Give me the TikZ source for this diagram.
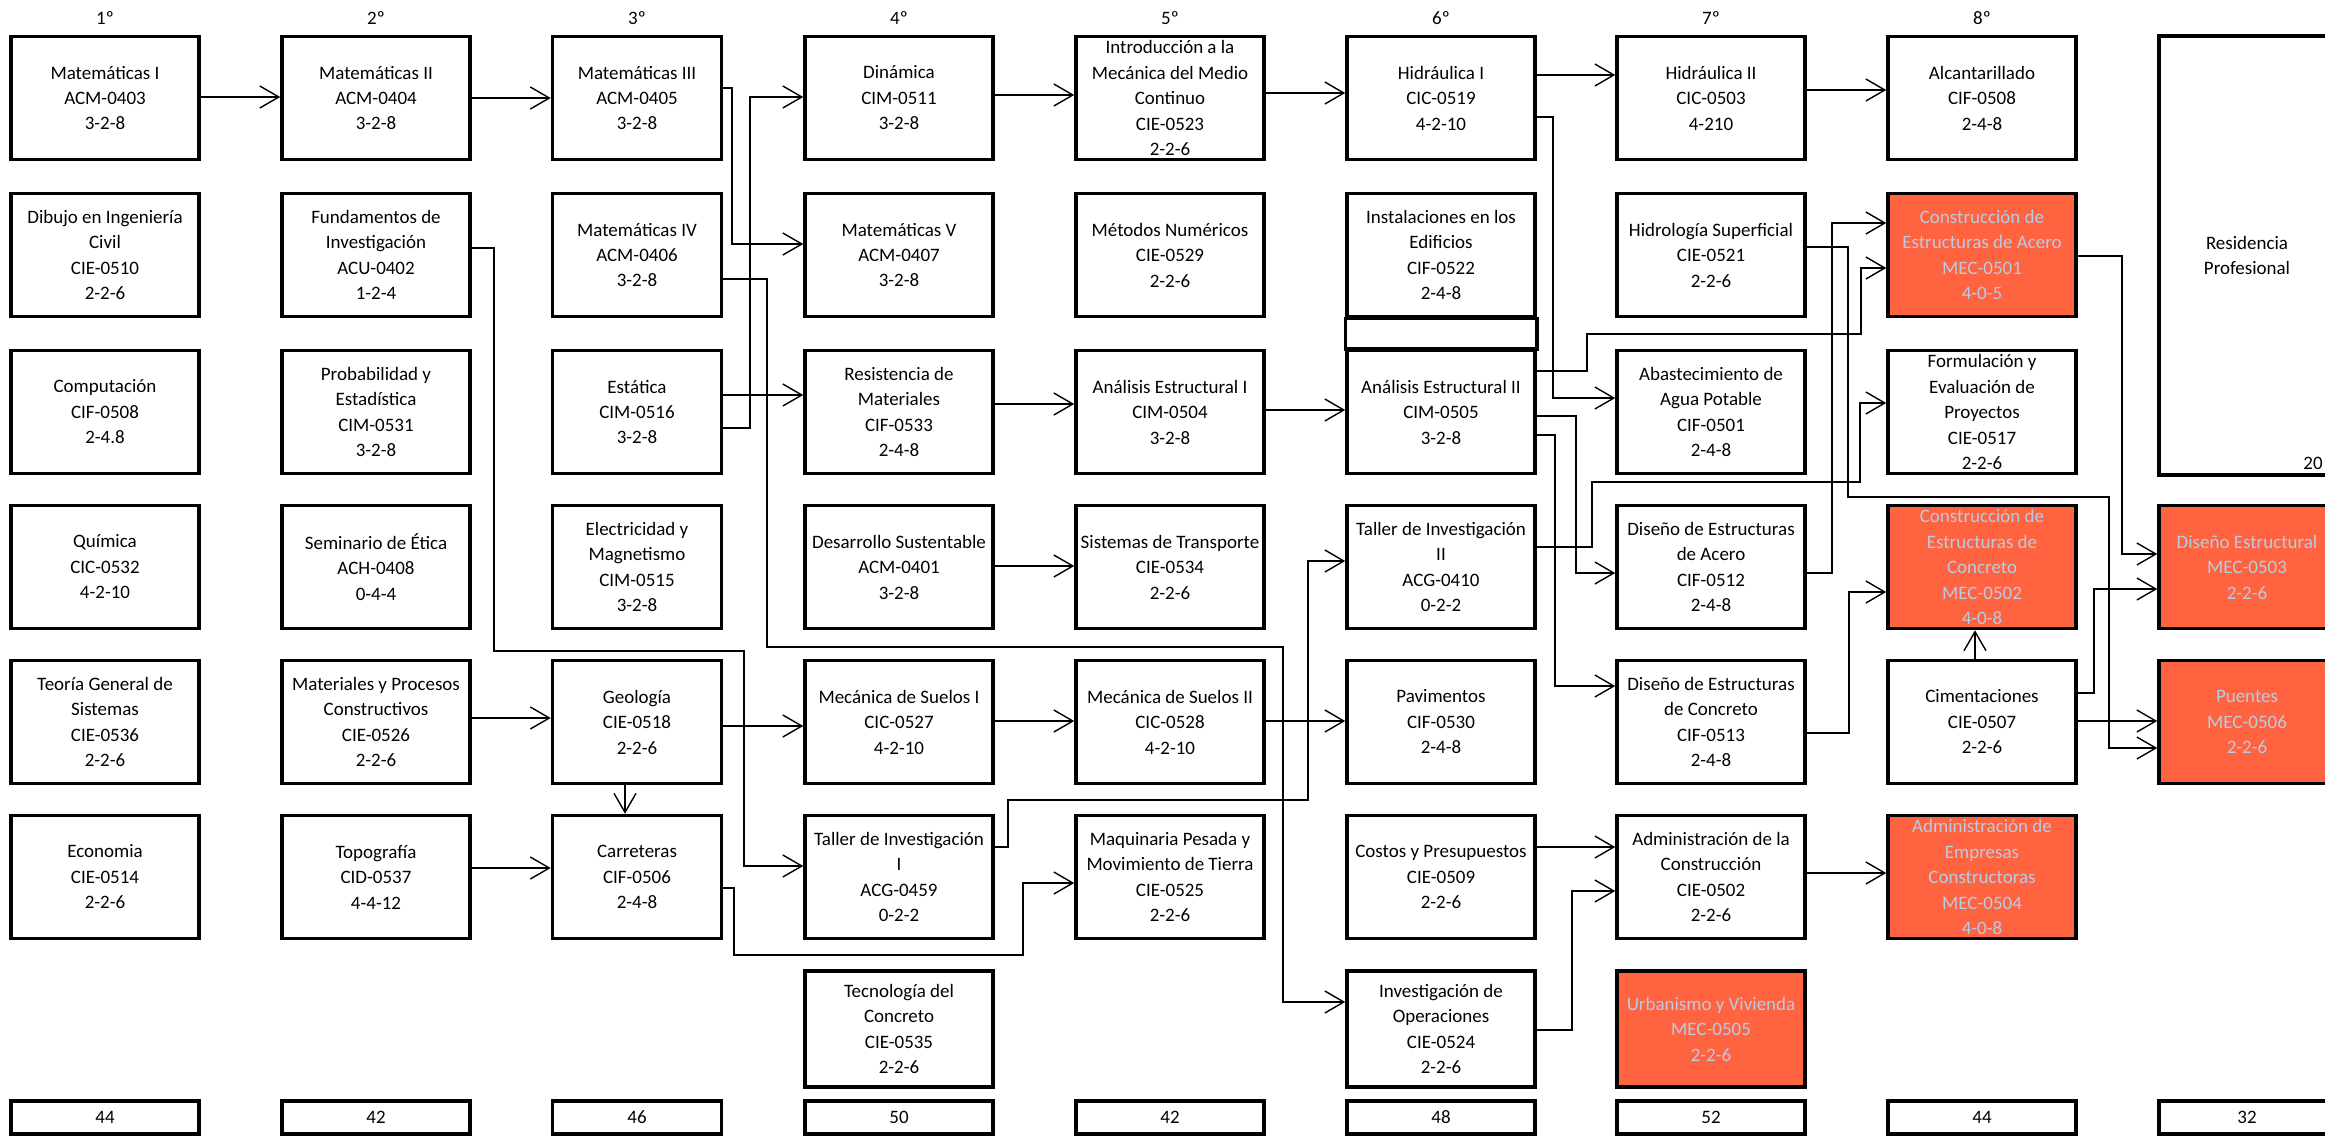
\documentclass[tikz,border=0pt]{standalone}
\usepackage{fontspec}
\setmainfont{Carlito}
\usetikzlibrary{arrows.meta,positioning}

\definecolor{naranja}{RGB}{255,99,64}
\definecolor{letraclara}{RGB}{184,204,228}

\begin{document}
\begin{tikzpicture}[x=0.2mm,y=-0.2mm]

%MARGINS
\useasboundingbox (0,0) rectangle (2325,1137);
\clip (0,0) rectangle (2325,1137);

%%%%%%%%%%%%%%%%%%%%%%%%%%%%%%%%%%%%%%%%%%%%%%%%%%%%%%%%%%%%%%
%styles
\tikzstyle{materia}=[draw,line width=2pt,minimum width=37.6mm,minimum height=24.6mm,inner sep=1pt,align=center,font=\fontsize{10.8}{14.5}\selectfont]
\tikzstyle{materiac}=[materia,minimum width=33.8mm]
\tikzstyle{especial}=[materia,fill=naranja,text=letraclara]
\tikzstyle{total}=[draw,line width=2pt,minimum width=37.6mm,minimum height=6.6mm,inner sep=0pt,font=\fontsize{10.8}{14.5}\selectfont]
\tikzstyle{sem}=[inner sep=0pt,font=\fontsize{10.8}{14.5}\selectfont]
\tikzstyle{flecha}=[-{Straight Barb[length=3.8mm,width=4.4mm]},line width=0.8pt]

%semestres
\node[sem] (sem1) at (105,18) {1º};
\node[sem] (sem2) at (376,18) {2º};
\node[sem] (sem3) at (637,18) {3º};
\node[sem] (sem4) at (899,18) {4º};
\node[sem] (sem5) at (1170,18) {5º};
\node[sem] (sem6) at (1441,18) {6º};
\node[sem] (sem7) at (1711,18) {7º};
\node[sem] (sem8) at (1982,18) {8º};

%1
\node[materia] (matI) at (105,98) {Matemáticas I\\ACM-0403\\3-2-8};
\node[materia] (dibujo) at (105,255) {Dibujo en Ingeniería\\Civil\\CIE-0510\\2-2-6};
\node[materia] (compu) at (105,412) {Computación\\CIF-0508\\2-4.8};
\node[materia] (quimica) at (105,567) {Química\\CIC-0532\\4-2-10};
\node[materia] (teoria) at (105,722) {Teoría General de\\Sistemas\\CIE-0536\\2-2-6};
\node[materia] (economia) at (105,877) {Economia\\CIE-0514\\2-2-6};

%2
\node[materia] (matII) at (376,98) {Matemáticas II\\ACM-0404\\3-2-8};
\node[materia] (fund) at (376,255) {Fundamentos de\\Investigación\\ACU-0402\\1-2-4};
\node[materia] (proba) at (376,412) {Probabilidad y\\Estadística\\CIM-0531\\3-2-8};
\node[materia] (etica) at (376,567) {Seminario de Ética\\ACH-0408\\0-4-4};
\node[materia] (matproc) at (376,722) {Materiales y Procesos\\Constructivos\\CIE-0526\\2-2-6};
\node[materia] (topo) at (376,877) {Topografía\\CID-0537\\4-4-12};

%3
\node[materiac] (matIII) at (637,98) {Matemáticas III\\ACM-0405\\3-2-8};
\node[materiac] (matIV) at (637,255) {Matemáticas IV\\ACM-0406\\3-2-8};
\node[materiac] (estatica) at (637,412) {Estática\\CIM-0516\\3-2-8};
\node[materiac] (electri) at (637,567) {Electricidad y\\Magnetismo\\CIM-0515\\3-2-8};
\node[materiac] (geologia) at (637,722) {Geología\\CIE-0518\\2-2-6};
\node[materiac] (carreteras) at (637,877) {Carreteras\\CIF-0506\\2-4-8};

%4
\node[materia] (dinamica) at (899,98) {Dinámica\\CIM-0511\\3-2-8};
\node[materia] (matV) at (899,255) {Matemáticas V\\ACM-0407\\3-2-8};
\node[materia] (resmat) at (899,412) {Resistencia de\\Materiales\\CIF-0533\\2-4-8};
\node[materia] (desarrollo) at (899,567) {Desarrollo Sustentable\\ACM-0401\\3-2-8};
\node[materia] (suelosI) at (899,722) {Mecánica de Suelos I\\CIC-0527\\4-2-10};
\node[materia] (tallerI) at (899,877) {Taller de Investigación\\I\\ACG-0459\\0-2-2};
\node[materia,minimum height=23.2mm] (tecno) at (899,1029) {Tecnología del\\Concreto\\CIE-0535\\2-2-6};

%5
\node[materia] (intro) at (1170,98) {Introducción a la\\Mecánica del Medio\\Continuo\\CIE-0523\\2-2-6};
\node[materia] (metodos) at (1170,255) {Métodos Numéricos\\CIE-0529\\2-2-6};
\node[materia] (analisisI) at (1170,412) {Análisis Estructural I\\CIM-0504\\3-2-8};
\node[materia] (transporte) at (1170,567) {Sistemas de Transporte\\CIE-0534\\2-2-6};
\node[materia] (suelosII) at (1170,722) {Mecánica de Suelos II\\CIC-0528\\4-2-10};
\node[materia] (maquinaria) at (1170,877) {Maquinaria Pesada y\\Movimiento de Tierra\\CIE-0525\\2-2-6};

%6
\node[materia] (hidI) at (1441,98) {Hidráulica I\\CIC-0519\\4-2-10};
\node[materia] (instal) at (1441,255) {Instalaciones en los\\Edificios\\CIF-0522\\2-4-8};
\node[materia] (analisisII) at (1441,412) {Análisis Estructural II\\CIM-0505\\3-2-8};
\node[materia] (tallerII) at (1441,567) {Taller de Investigación\\II\\ACG-0410\\0-2-2};
\node[materia] (pavimentos) at (1441,722) {Pavimentos\\CIF-0530\\2-4-8};
\node[materia] (costos) at (1441,877) {Costos y Presupuestos\\CIE-0509\\2-2-6};
\node[materia,minimum height=23.2mm] (invop) at (1441,1029) {Investigación de\\Operaciones\\CIE-0524\\2-2-6};
\draw[line width=2pt] (instal.south west) rectangle (analisisII.north east);

%7
\node[materia] (hidII) at (1711,98) {Hidráulica II\\CIC-0503\\4-210};
\node[materia] (hidrologia) at (1711,255) {Hidrología Superficial\\CIE-0521\\2-2-6};
\node[materia] (abasto) at (1711,412) {Abastecimiento de\\Agua Potable\\CIF-0501\\2-4-8};
\node[materia] (disacero) at (1711,567) {Diseño de Estructuras\\de Acero\\CIF-0512\\2-4-8};
\node[materia] (disconcreto) at (1711,722) {Diseño de Estructuras\\de Concreto\\CIF-0513\\2-4-8};
\node[materia] (admcons) at (1711,877) {Administración de la\\Construcción\\CIE-0502\\2-2-6};
\node[especial,minimum height=23.2mm] (urbanismo) at (1711,1029) {Urbanismo y Vivienda\\MEC-0505\\2-2-6};

%8
\node[materia] (alcantarillado) at (1982,98) {Alcantarillado\\CIF-0508\\2-4-8};
\node[especial] (constacero) at (1982,255) {Construcción de\\Estructuras de Acero\\MEC-0501\\4-0-5};
\node[materia] (formulacion) at (1982,412) {Formulación y\\Evaluación de\\Proyectos\\CIE-0517\\2-2-6};
\node[especial] (constconcreto) at (1982,567) {Construcción de\\Estructuras de\\Concreto\\MEC-0502\\4-0-8};
\node[materia] (cimentaciones) at (1982,722) {Cimentaciones\\CIE-0507\\2-2-6};
\node[especial] (admemp) at (1982,877) {Administración de\\Empresas\\Constructoras\\MEC-0504\\4-0-8};

%9
\node[materia,minimum width=35.2mm,minimum height=87.8mm] (residencia) at (2247,255.5) {Residencia\\Profesional};
\node[sem,anchor=base east] (credres) at (2323,469) {20};
\node[especial,minimum width=35.2mm] (disestructural) at (2247,567) {Diseño Estructural\\MEC-0503\\2-2-6};
\node[especial,minimum width=35.2mm] (puentes) at (2247,722) {Puentes\\MEC-0506\\2-2-6};

%creditos
\node[total] (total1) at (105,1117.5) {44};
\node[total] (total2) at (376,1117.5) {42};
\node[total,minimum width=33.8mm] (total3) at (637,1117.5) {46};
\node[total] (total4) at (899,1117.5) {50};
\node[total] (total5) at (1170,1117.5) {42};
\node[total] (total6) at (1441,1117.5) {48};
\node[total] (total7) at (1711,1117.5) {52};
\node[total] (total8) at (1982,1117.5) {44};
\node[total,minimum width=35.2mm] (total9) at (2247,1117.5) {32};

%%%%%%%%%%%%%%%%%%%%%%%%%%%%%%%%%%%%%%%%%%%%%%%%%%%%%%%%%%%%%%
%ARROWS

%1->2
\draw[flecha] (matI.east |- 0,97) -- (matII.west |- 0,97);
%2->3
\draw[flecha] (matII.east |- 0,98) -- (matIII.west |- 0,98);
\draw[flecha] (matproc.east |- 0,718) -- (geologia.west |- 0,718);
\draw[flecha] (topo.east |- 0,868) -- (carreteras.west |- 0,868);
\draw[flecha] (geologia.south -| 625,0) -- (carreteras.north -| 625,0);
%2->4
\draw[flecha] (fund.east |- 0,248) -- (494,248) -- (494,651) -- (744,651) -- (744,866) -- (tallerI.west |- 0,866);
%3->4
\draw[flecha] (matIII.east |- 0,88) -- (732,88) -- (732,244) -- (matV.west |- 0,244);
\draw[flecha] (estatica.east |- 0,428) -- (750,428) -- (750,97) -- (dinamica.west |- 0,97);
\draw[flecha] (estatica.east |- 0,395) -- (resmat.west |- 0,395);
\draw[flecha] (geologia.east |- 0,726) -- (suelosI.west |- 0,726);
%3->5
\draw[flecha] (carreteras.east |- 0,888) -- (734,888) -- (734,955) -- (1023,955) -- (1023,883) -- (maquinaria.west |- 0,883);
%3->6
\draw[flecha] (matIV.east |- 0,279) -- (767,279) -- (767,647) -- (1283,647) -- (1283,1002) -- (invop.west |- 0,1002);
%4->5
\draw[flecha] (dinamica.east |- 0,95) -- (intro.west |- 0,95);
\draw[flecha] (resmat.east |- 0,404) -- (analisisI.west |- 0,404);
\draw[flecha] (desarrollo.east |- 0,566) -- (transporte.west |- 0,566);
\draw[flecha] (suelosI.east |- 0,721) -- (suelosII.west |- 0,721);
%4->6
\draw[flecha] (tallerI.east |- 0,847) -- (1008,847) -- (1008,800) -- (1308,800) -- (1308,561) -- (tallerII.west |- 0,561);
%5->6
\draw[flecha] (intro.east |- 0,93) -- (hidI.west |- 0,93);
\draw[flecha] (analisisI.east |- 0,410) -- (analisisII.west |- 0,410);
\draw[flecha] (suelosII.east |- 0,721) -- (pavimentos.west |- 0,721);
%6->7
\draw[flecha] (hidI.east |- 0,75) -- (hidII.west |- 0,75);
\draw[flecha] (hidI.east |- 0,117) -- (1553,117) -- (1553,398) -- (abasto.west |- 0,398);
\draw[flecha] (analisisII.east |- 0,416) -- (1576,416) -- (1576,573) -- (disacero.west |- 0,573);
\draw[flecha] (analisisII.east |- 0,435) -- (1555,435) -- (1555,686) -- (disconcreto.west |- 0,686);
\draw[flecha] (costos.east |- 0,847) -- (admcons.west |- 0,847);
\draw[flecha] (invop.east |- 0,1030) -- (1572,1030) -- (1572,891) -- (admcons.west |- 0,891);
%6->8
\draw[flecha] (analisisII.east |- 0,371) -- (1587,371) -- (1587,334) -- (1861,334) -- (1861,268) -- (constacero.west |- 0,268);
\draw[flecha] (tallerII.east |- 0,547) -- (1592,547) -- (1592,482) -- (1860,482) -- (1860,403) -- (formulacion.west |- 0,403);
%7->8
\draw[flecha] (hidII.east |- 0,90) -- (alcantarillado.west |- 0,90);
\draw[flecha] (disacero.east |- 0,573) -- (1832,573) -- (1832,223) -- (constacero.west |- 0,223);
\draw[flecha] (disconcreto.east |- 0,733) -- (1849,733) -- (1849,592) -- (constconcreto.west |- 0,592);
\draw[flecha] (admcons.east |- 0,873) -- (admemp.west |- 0,873);
%7->9
\draw[flecha] (hidrologia.east |- 0,247) -- (1848,247) -- (1848,497) -- (2109,497) -- (2109,748) -- (puentes.west |- 0,748);
%8->8
\draw[flecha] (cimentaciones.north -| 1975,0) -- (constconcreto.south -| 1975,0);
%8->9
\draw[flecha] (constacero.east |- 0,256) -- (2122,256) -- (2122,554) -- (disestructural.west |- 0,554);
\draw[flecha] (cimentaciones.east |- 0,693) -- (2094,693) -- (2094,589) -- (disestructural.west |- 0,589);
\draw[flecha] (cimentaciones.east |- 0,721) -- (puentes.west |- 0,721);
\end{tikzpicture}
\end{document}
